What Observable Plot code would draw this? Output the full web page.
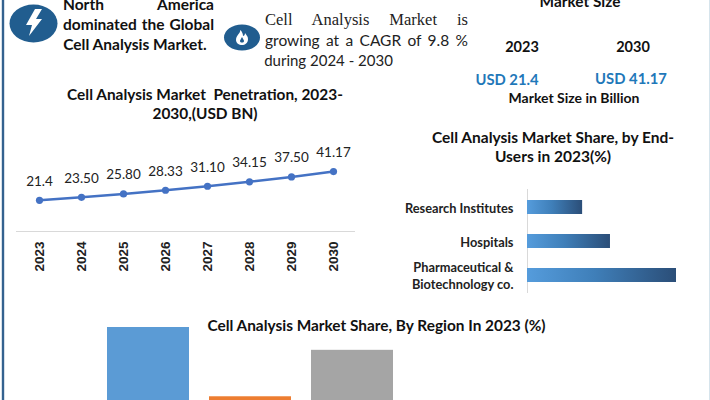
<!DOCTYPE html>
<html>
<head>
<meta charset="utf-8">
<script src="https://cdn.jsdelivr.net/npm/d3@7"></script>
<script src="https://cdn.jsdelivr.net/npm/@observablehq/plot@0.6"></script>
<style>
html,body{margin:0;padding:0;background:#fff}
#stage{position:relative;width:710px;height:400px;overflow:hidden;background:#fff;font-family:Lato,sans-serif;color:#111}
#stage svg{position:absolute;left:0;top:0}
.t{position:absolute;white-space:pre;font-weight:700;font-size:15.4px;line-height:19px;transform:translate(-50%,-50%);text-align:center}
.j{position:absolute;font-size:15.5px;line-height:20px;transform:translateY(-50%);text-align:justify;text-align-last:justify;white-space:normal}
</style>
</head>
<body>
<div id="stage"></div>
<script>
const years = ["2023","2024","2025","2026","2027","2028","2029","2030"];
const marketSize = [21.4,23.5,25.8,28.33,31.1,34.15,37.5,41.17];
const sizeLabels = ["21.4","23.50","25.80","28.33","31.10","34.15","37.50","41.17"];
const endUsers = ["Research Institutes","Hospitals","Pharmaceutical &\nBiotechnology co."];
const endUserShare = [19.2,28.9,51.9];
const regionKeys = ["A","B","C"];
const regionShare = [40,23,34.4];
const regionColors = ["#5b9bd5","#ed7d31","#a5a5a5"];

const stage = document.getElementById("stage");
const W = 710, H = 400;
const FONT = "Lato, sans-serif";

function addText(txt,x,y,o={}){
  const d=document.createElement("div");d.className="t";d.textContent=txt;
  d.style.left=x+"px";d.style.top=y+"px";
  Object.assign(d.style,o);stage.appendChild(d);
}
function addJust(txt,x,w,y,o={}){
  const d=document.createElement("div");d.className="j";d.textContent=txt;
  d.style.left=x+"px";d.style.top=y+"px";d.style.width=w+"px";
  Object.assign(d.style,o);stage.appendChild(d);
}

// region bars (cropped by the bottom of the picture)
const regData = regionKeys.map((k,i)=>({k,v:regionShare[i],c:regionColors[i]}));
stage.append(Plot.plot({
  width:W,height:H,style:{background:"transparent",fontFamily:FONT,overflow:"hidden"},
  marginLeft:97,marginRight:W-403,marginTop:0,marginBottom:0,
  x:{type:"band",domain:regionKeys,paddingInner:0.2,paddingOuter:0.1,axis:null,label:null},
  y:{domain:[0,40],range:[490,327],axis:null,label:null},
  marks:[Plot.barY(regData,{x:"k",y:"v",fill:"c"})]
}));

// line chart
const lineData = years.map((y,i)=>({y,v:marketSize[i],l:sizeLabels[i]}));
stage.append(Plot.plot({
  width:W,height:H,style:{background:"transparent",fontFamily:FONT,overflow:"hidden"},
  marginLeft:16,marginRight:W-355,marginTop:100,marginBottom:H-231,
  x:{type:"band",domain:years,padding:0,label:null},
  y:{domain:[0,90],axis:null,label:null},
  marks:[
    Plot.ruleY([0],{stroke:"#d9d9d9",strokeWidth:1}),
    Plot.axisX({tickSize:0,tickRotate:-90,tickPadding:10,fontFamily:"'Liberation Sans',sans-serif",fontWeight:700,fontSize:13.5,fill:"#222",label:null}),
    Plot.line(lineData,{x:"y",y:"v",stroke:"#4472c4",strokeWidth:2.5}),
    Plot.dot(lineData,{x:"y",y:"v",r:3.6,fill:"#4472c4"}),
    Plot.text(lineData,{x:"y",y:"v",text:"l",dy:-19,fontSize:13.5,fill:"#222"})
  ]
}));

// end users bars
const barData = endUsers.map((u,i)=>({u,v:endUserShare[i]}));
stage.append(Plot.plot({
  width:W,height:H,style:{background:"transparent",fontFamily:FONT,overflow:"hidden"},
  marginLeft:527,marginRight:W-676,marginTop:189,marginBottom:H-293,
  x:{domain:[0,51.9],axis:null,label:null},
  y:{type:"band",domain:endUsers,paddingInner:0.6,paddingOuter:0.286,label:null},
  marks:[
    ()=>{
      const ns="http://www.w3.org/2000/svg";
      const defs=document.createElementNS(ns,"defs");
      defs.innerHTML='<linearGradient id="barGrad" x1="0" x2="1" y1="0" y2="0"><stop offset="0" stop-color="#559cdc"/><stop offset="0.45" stop-color="#3f7fb9"/><stop offset="1" stop-color="#2b4e78"/></linearGradient>';
      return defs;
    },
    Plot.ruleX([0],{stroke:"#d9d9d9",strokeWidth:1}),
    Plot.axisY({tickSize:0,tickPadding:14,fontWeight:700,fontSize:12.8,lineHeight:1.32,fill:"#222",label:null,lineWidth:30}),
    Plot.barX(barData,{x:"v",y:"u",fill:"url(#barGrad)"})
  ]
}));

// frame
const frameX = [2.5];
const frameRightX = [709.5];
stage.append(Plot.plot({
  width:W,height:H,style:{background:"transparent",overflow:"hidden"},
  margin:0,x:{domain:[0,W],range:[0,W],axis:null},y:{domain:[0,H],range:[0,H],axis:null},
  marks:[
    Plot.ruleX(frameX,{stroke:"#34628f",strokeWidth:2.4}),
    Plot.ruleX(frameRightX,{stroke:"#c9dbe6",strokeWidth:1.5})
  ]
}));

// icons
const icons=document.createElementNS("http://www.w3.org/2000/svg","svg");
icons.setAttribute("width",W);icons.setAttribute("height",H);
icons.innerHTML=`
<ellipse cx="33.5" cy="23.5" rx="24" ry="19" fill="#215d8f"/>
<path d="M35 9 L26 25 L32 25 L29 36 L42 19 L36 19 L42 9 Z" fill="#fff"/>
<ellipse cx="242" cy="37.5" rx="18" ry="13" fill="#215d8f"/>
<path d="M240 30 C241 33 236 35 236 40 C236 43 239 45 242 45 C245 45 248 43 248 39 C248 36 246 35 245 33 C245 35 244 36 243 36 C243 34 242 31 240 30 Z" fill="#fff"/>
<path d="M242 37 C243 39 244 40 244 41 C244 43 240 43 240 41 C240 40 241 39 242 37 Z" fill="#215d8f"/>`;
stage.appendChild(icons);

// text
addJust("North America",63,151,4,{fontWeight:700,fontSize:"15.5px"});
addJust("dominated the Global",63,151,24,{fontWeight:700,fontSize:"15.5px"});
addText("Cell Analysis Market.",135,44,{fontSize:"15.5px"});
addJust("Cell Analysis Market is",265,203,20,{fontFamily:"'Liberation Serif',serif",fontSize:"16.5px",color:"#222"});
addJust("growing at a CAGR of 9.8 %",265,203,40,{fontSize:"15.5px",color:"#222"});
addText("during 2024 - 2030",328.5,60,{fontSize:"15px",fontWeight:400,color:"#222"});
addText("Cell Analysis Market  Penetration, 2023-",205,94);
addText("2030,(USD BN)",205,113);
addText("Market Size",580,1);
addText("2023",522,46,{fontSize:"14.5px"});
addText("2030",633,46,{fontSize:"14.5px"});
addText("USD 21.4",507,79,{color:"#1f78b9",fontSize:"14.8px"});
addText("USD 41.17",631,77.5,{color:"#1f78b9",fontSize:"14.8px"});
addText("Market Size in Billion",574,97,{fontSize:"14px"});
addText("Cell Analysis Market Share, by End-",553,137,{fontSize:"15.5px"});
addText("Users in 2023(%)",553,156,{fontSize:"15.5px"});
addText("Cell Analysis Market Share, By Region In 2023 (%)",376.5,325,{fontSize:"15.4px"});
</script>
</body>
</html>
